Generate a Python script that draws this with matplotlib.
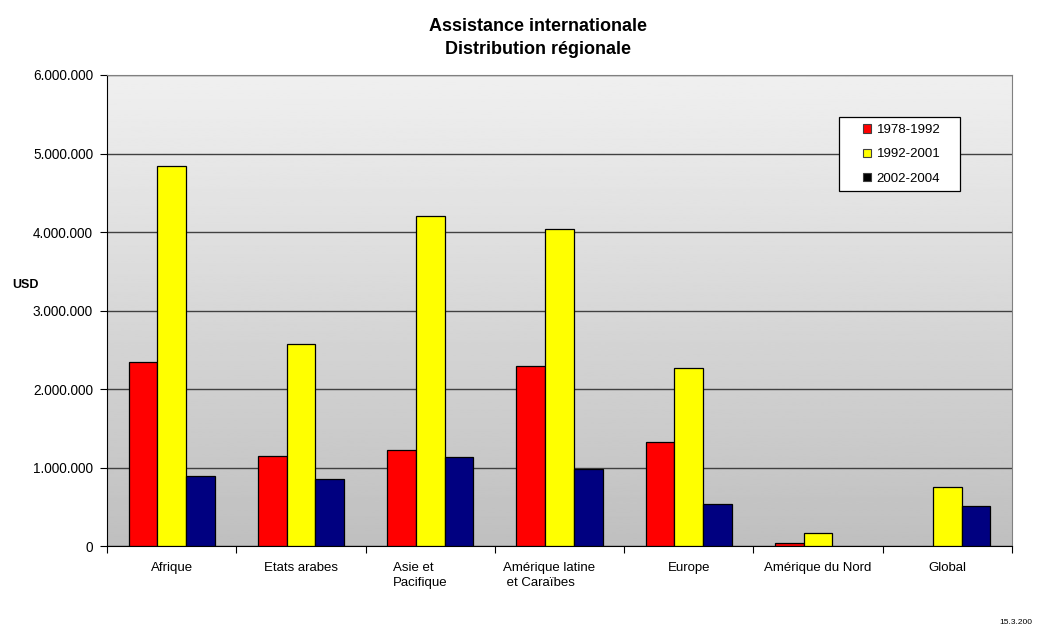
import numpy as np
import matplotlib
matplotlib.use("Agg")
import matplotlib.pyplot as plt
from matplotlib.patches import Rectangle, Patch
from matplotlib.ticker import FuncFormatter, MultipleLocator
from matplotlib.transforms import ScaledTranslation

plt.rcParams['font.family'] = ['Liberation Sans', 'DejaVu Sans']

regions = ["Afrique", "Etats arabes", "Asie et\nPacifique",
           "Amérique latine\n et Caraïbes", "Europe", "Amérique du Nord", "Global"]
periods = ["1978-1992", "1992-2001", "2002-2004"]
p1978_1992 = [2340000, 1150000, 1230000, 2290000, 1330000, 40000, 0]
p1992_2001 = [4840000, 2580000, 4200000, 4040000, 2270000, 170000, 750000]
p2002_2004 = [890000, 860000, 1140000, 990000, 540000, 0, 510000]
colors = ["#ff0000", "#ffff00", "#000080"]
legend_colors = ["#ff0000", "#ffff00", "#000000"]

W, H = 1043, 630
fig = plt.figure(figsize=(W / 100, H / 100), dpi=100)
ax = fig.add_axes([107 / W, 1 - 546.3 / H, 905 / W, 471.3 / H])

# grey gradient behind the bars
grad = np.linspace(0.94, 0.75, 256).reshape(-1, 1)
ax.imshow(grad, cmap="gray", vmin=0, vmax=1, aspect="auto",
          extent=[0, 1, 0, 1], transform=ax.transAxes, zorder=0)

x = np.arange(len(regions))
w = 1 / 4.5
series = [p1978_1992, p1992_2001, p2002_2004]
for i, (vals, c) in enumerate(zip(series, colors)):
    vals = np.array(vals)
    lw = np.where(vals > 0, 0.9, 0)   # empty bars get no outline
    ax.bar(x + (i - 1) * w + 0.5, vals, width=w, color=c, edgecolor="black",
           linewidth=lw, zorder=3)

ax.set_xlim(0, len(regions))
ax.set_ylim(0, 6000000)
ax.yaxis.set_major_locator(MultipleLocator(1000000))
ax.yaxis.set_major_formatter(FuncFormatter(lambda v, p: f"{int(v):,}".replace(",", ".")))
ax.grid(axis="y", color="#404040", linewidth=1, zorder=1)

ax.set_xticks(np.arange(len(regions) + 1))
ax.set_xticklabels([])
ax.set_xticks(x + 0.5, minor=True)
ax.set_xticklabels(regions, minor=True, fontsize=9.5, multialignment="left", linespacing=1.35)
ax.tick_params(axis="x", which="minor", length=0, pad=11)
ax.tick_params(axis="x", which="major", length=5, width=0.8, direction="out")
ax.tick_params(axis="y", length=5, width=0.8, labelsize=9.8, pad=5)

# shift the two-line labels slightly left
for lbl in ax.get_xticklabels(minor=True):
    if "\n" in lbl.get_text():
        lbl.set_transform(lbl.get_transform() + ScaledTranslation(-0.1, 0, fig.dpi_scale_trans))

for s in ["top", "right"]:
    ax.spines[s].set_color("#808080")
for s in ["left", "bottom"]:
    ax.spines[s].set_color("black")

fig.text(538 / W, 1 - 38 / H, "Assistance internationale\nDistribution régionale",
         ha="center", va="center", fontsize=13, fontweight="bold", linespacing=1.42)
fig.text(12 / W, 1 - 285 / H, "USD", fontsize=9, fontweight="bold", va="center")
fig.text(1032 / W, 1 - 623 / H, "15.3.200", fontsize=6, ha="right", va="center")

# legend box
fig.patches.append(Rectangle((839 / W, 1 - 191 / H), 121 / W, 74.3 / H,
                             transform=fig.transFigure, facecolor="white",
                             edgecolor="black", linewidth=0.9, zorder=5))
handles = [Patch(facecolor=c, edgecolor="#404040", linewidth=0.8) for c in legend_colors]
leg = fig.legend(handles, periods, loc="upper left",
                 bbox_to_anchor=(863 / W, 1 - 124.3 / H), frameon=False,
                 fontsize=9.5, handlelength=0.62, handleheight=0.62, handletextpad=0.4,
                 labelspacing=0.92, borderpad=0, borderaxespad=0)
leg.set_zorder(6)

fig.savefig("out.png", dpi=100)
